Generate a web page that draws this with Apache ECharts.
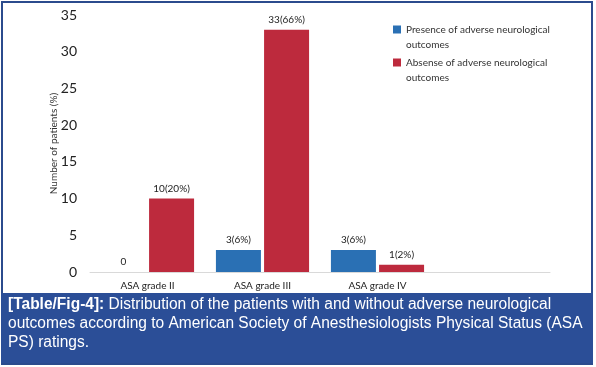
<!DOCTYPE html>
<html>
<head>
<meta charset="utf-8">
<script src="https://cdn.jsdelivr.net/npm/echarts@6/dist/echarts.min.js"></script>
<style>
html,body{margin:0;padding:0;background:#fff;}
#c{width:596px;height:367px;}
</style>
</head>
<body>
<div id="c"></div>
<script>
const categories = ['ASA grade II', 'ASA grade III', 'ASA grade IV', ''];
const presenceValues = [0, 3, 3, null];
const absenceValues = [10, 33, 1, null];
const presenceLabels = ['0', '3(6%)', '3(6%)', ''];
const absenceLabels = ['10(20%)', '33(66%)', '1(2%)', ''];
const seriesNames = ['Presence of adverse neurological\noutcomes', 'Absense of adverse neurological\noutcomes'];
const yTicks = { min: 0, max: 35, interval: 5 };
const captionBold = '[Table/Fig-4]:';
const captionLines = [
  ' Distribution of the patients with and without adverse neurological',
  'outcomes according to American Society of Anesthesiologists Physical Status (ASA',
  'PS) ratings.'
];

const chart = echarts.init(document.getElementById('c'));
const font = 'Lato, "Open Sans", sans-serif';
const capFont = '"Liberation Sans", Arial, sans-serif';

chart.setOption({
  animation: false,
  backgroundColor: '#ffffff',
  grid: { left: 90, right: 46, top: 15, bottom: 95 },
  legend: {
    orient: 'vertical',
    left: 388,
    top: 2,
    itemWidth: 8,
    itemHeight: 8,
    itemGap: -12,
    icon: 'rect',
    formatter: n => '\n' + n,
    textStyle: { fontFamily: font, fontSize: 10, color: '#333', lineHeight: 15 },
    data: seriesNames
  },
  xAxis: {
    type: 'category',
    data: categories,
    axisLine: { lineStyle: { color: '#d9d9d9', width: 1 } },
    axisTick: { show: false },
    axisLabel: { fontFamily: font, fontSize: 10, color: '#222', margin: 9 }
  },
  yAxis: {
    type: 'value',
    min: yTicks.min, max: yTicks.max, interval: yTicks.interval,
    name: 'Number of patients (%)',
    nameLocation: 'middle',
    nameGap: 31,
    nameMoveOverlap: false,
    nameTextStyle: { fontFamily: font, fontSize: 10, color: '#333' },
    axisLine: { show: false },
    axisTick: { show: false },
    splitLine: { show: false },
    axisLabel: { fontFamily: font, fontSize: 14, color: '#222', margin: 13 }
  },
  series: [
    {
      name: seriesNames[0], type: 'bar', data: presenceValues,
      barCategoryGap: '19%', barGap: '7%',
      itemStyle: { color: '#2a70b4' },
      label: { show: true, position: 'top', distance: 5, fontFamily: font, fontSize: 10, color: '#222',
        formatter: p => presenceLabels[p.dataIndex] }
    },
    {
      name: seriesNames[1], type: 'bar', data: absenceValues,
      barCategoryGap: '19%', barGap: '7%',
      itemStyle: { color: '#bd2a3d' },
      label: { show: true, position: 'top', distance: 5, fontFamily: font, fontSize: 10, color: '#222',
        formatter: p => absenceLabels[p.dataIndex] }
    }
  ],
  graphic: [
    { type: 'rect', z: 10, shape: { x: 2, y: 2, width: 590, height: 362 }, style: { fill: 'none', stroke: '#2b4b8d', lineWidth: 2 } },
    { type: 'rect', z: 11, shape: { x: 1, y: 293, width: 592, height: 70 }, style: { fill: '#2b4e97' } },
    { type: 'text', z: 12, x: 8, y: 295, scaleX: 0.97, style: {
        text: '{b|' + captionBold + '}{n|' + captionLines[0] + '}\n{n|' + captionLines[1] + '}\n{n|' + captionLines[2] + '}',
        rich: {
          b: { fontFamily: capFont, fontSize: 16, fontWeight: 'bold', fill: '#ffffff', lineHeight: 19 },
          n: { fontFamily: capFont, fontSize: 16, fill: '#ffffff', lineHeight: 19 }
        }
      } }
  ]
});
</script>
</body>
</html>
